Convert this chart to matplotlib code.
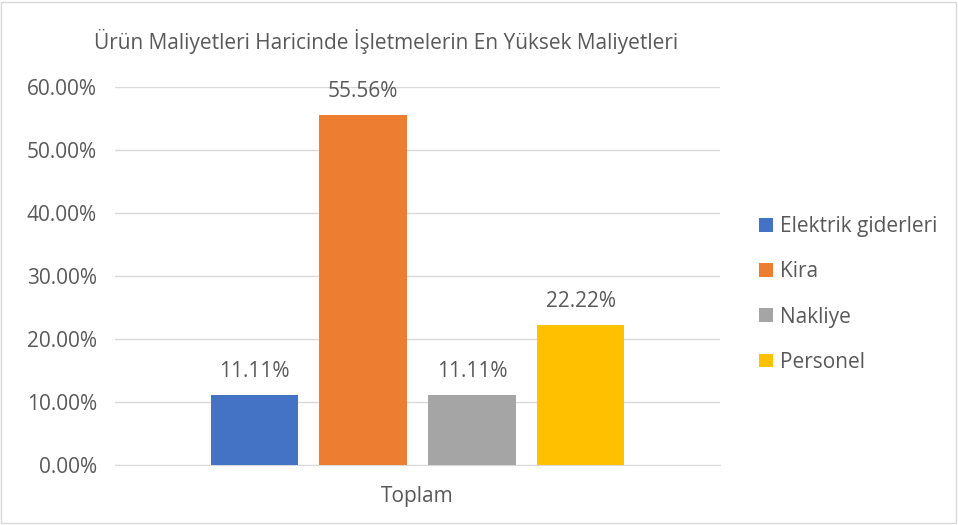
import matplotlib
matplotlib.use("Agg")
import matplotlib.pyplot as plt
from matplotlib.ticker import PercentFormatter, MultipleLocator
from matplotlib.patches import Rectangle

plt.rcParams['font.family'] = ['Open Sans', 'DejaVu Sans']

title = "Ürün Maliyetleri Haricinde İşletmelerin En Yüksek Maliyetleri"
category = "Toplam"
series_names = ["Elektrik giderleri", "Kira", "Nakliye", "Personel"]
series_values = [11.11, 55.56, 11.11, 22.22]
colors = ["#4472C4", "#ED7D31", "#A5A5A5", "#FFC000"]

text_color = "#595959"
fs = 15

fig = plt.figure(figsize=(9.58, 5.25), dpi=100)
ax = fig.add_axes([115 / 958, 1 - 465 / 525, 605 / 958, 378 / 525])

step = 0.18
width = 0.144
for i, (name, val, col) in enumerate(zip(series_names, series_values, colors)):
    x = (i - 1.5) * step
    ax.bar(x, val, width=width, color=col, label=name, zorder=3)
    ax.text(x, val + 3.8, f"{val:.2f}%", ha="center", va="center",
            fontsize=fs, color=text_color)

ax.set_xlim(-0.5, 0.5)
ax.set_ylim(0, 60)
ax.yaxis.set_major_locator(MultipleLocator(10))
ax.yaxis.set_major_formatter(PercentFormatter(decimals=2))
ax.set_xticks([0])
ax.set_xticklabels([category])
ax.tick_params(axis="both", length=0, labelsize=fs, labelcolor=text_color)
ax.tick_params(axis="y", pad=13)
ax.tick_params(axis="x", pad=15)
ax.grid(axis="y", color="#D9D9D9", linewidth=1, zorder=0)
for s in ["top", "right", "left"]:
    ax.spines[s].set_visible(False)
ax.spines["bottom"].set_color("#D9D9D9")

fig.text(386 / 958, 1 - 42 / 525, title, ha="center", va="center",
         fontsize=fs, color=text_color)

leg = ax.legend(loc="center left", bbox_to_anchor=(1.05, 0.451), frameon=False,
                fontsize=fs, labelcolor=text_color, handlelength=0.67,
                handleheight=0.63, handletextpad=0.34, labelspacing=1.16,
                borderaxespad=0)

fig.patches.append(Rectangle((0.001, 0.004), 0.997, 0.993, transform=fig.transFigure,
                             fill=False, edgecolor="#D9D9D9", linewidth=1))

fig.savefig("out.png", dpi=100)
